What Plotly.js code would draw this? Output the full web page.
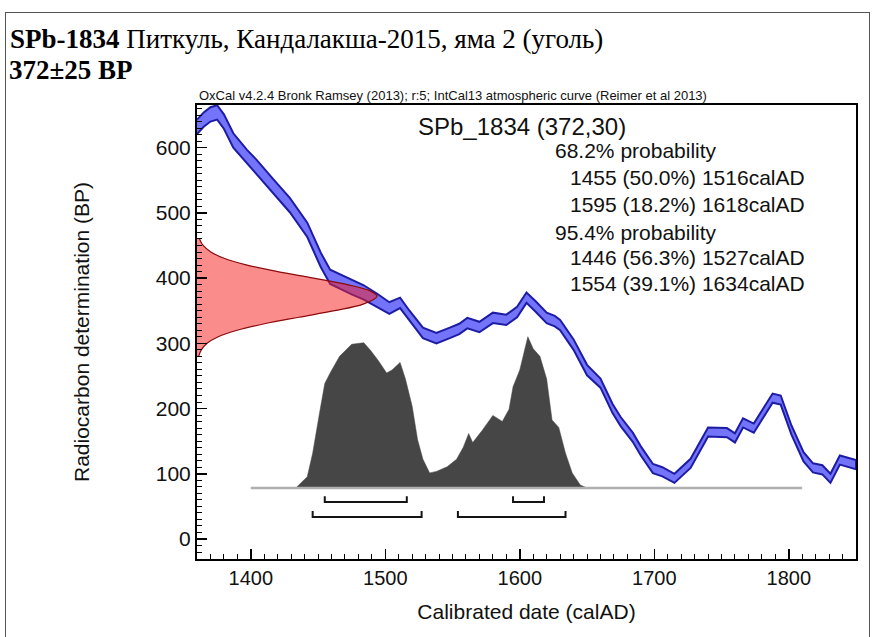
<!DOCTYPE html>
<html><head><meta charset="utf-8">
<script src="https://cdn.plot.ly/plotly-3.0.1.min.js"></script>
<style>
html,body{margin:0;padding:0;background:#fff;}
#chart{position:absolute;left:0;top:0;width:875px;height:637px;}
#frame{position:absolute;left:5px;top:12px;width:863px;height:700px;border:1px solid #555;pointer-events:none;}
</style></head><body>
<div id="chart"></div>
<div id="frame"></div>
<script>
// IntCal13 curve: year calAD, centre BP, 1-sigma error
const calYear = [1360,1365,1370,1375,1380,1387,1397,1404,1417,1429,1442,1452,1459,1466,1475,1484,1494,1503,1511,1518,1528,1538,1548,1555,1561,1570,1580,1590,1598,1605,1612,1620,1626,1630,1640,1650,1660,1669,1675,1684,1690,1699,1706,1715,1727,1740,1754,1760,1766,1774,1781,1788,1794,1802,1811,1818,1825,1831,1838,1844,1850];
const calBP   = [632, 643, 651, 654, 640, 611, 586, 571, 540, 512, 474, 428, 402, 395, 386, 378, 366, 354, 362, 342, 316, 308, 316, 322, 331, 325, 339, 336, 348, 370, 356, 339, 334, 328, 298, 259, 239, 200, 180, 156, 135, 108, 103, 93,  116, 164, 163, 155, 178, 170, 193, 216, 213, 167, 126, 109, 106, 93,  121, 118, 114];
const calErr  = [11,  11,  11,  11,  11,  11,  11,  11,  11,  11,  11,  11,  11,  11,  11,  11,  10,  9,   8,   8,   8,   8,   8,   8,   8,   8,   8,   8,   8,   8,   8,   8,   8,   8,   8,   8,   7,   7,   7,   7,   7,   7,   7,   7,   7,   7,   7,   7,   7,   7,   7,   7,   7,   7,   7,   7,   7,   7,   7,   7,   7];

// Radiocarbon measurement distribution (BP, relative probability)
const rcBP   = [280, 290, 300, 310, 320, 330, 340, 350, 360, 372, 380, 390, 400, 410, 420, 430, 440, 450, 460];
const rcProb = [0.009,0.024,0.056,0.118,0.223,0.375,0.566,0.764,0.923,1.0,0.965,0.835,0.647,0.448,0.278,0.154,0.077,0.034,0.014];

// Calibrated date distribution (calAD, relative probability)
const distYear = [1430,1434,1442,1446,1451,1455,1459,1466,1475,1484,1489,1495,1501,1505,1511,1515,1520,1524,1528,1533,1538,1546,1553,1558,1562,1565,1572,1580,1587,1592,1595,1600,1606,1610,1615,1620,1624,1629,1634,1639,1645,1650];
const distProb = [0,   0.005,0.075,0.23,0.49,0.69,0.76,0.87,0.95,0.96,0.91,0.84,0.76,0.78,0.83,0.72,0.54,0.32,0.19,0.10,0.11,0.14,0.19,0.27,0.36,0.30,0.38,0.48,0.44,0.52,0.67,0.78,1.0, 0.92,0.87,0.72,0.45,0.40,0.23,0.10,0.02,0];
const baseRange = [1400, 1810];

// Highest probability ranges
const range68 = [[1455,1516],[1595,1618]];
const range95 = [[1446,1527],[1554,1634]];

const xTicks = [1400,1500,1600,1700,1800];
const yTicks = [0,100,200,300,400,500,600];

const statsLines = [
  "68.2% probability",
  "1455 (50.0%) 1516calAD",
  "1595 (18.2%) 1618calAD",
  "95.4% probability",
  "1446 (56.3%) 1527calAD",
  "1554 (39.1%) 1634calAD"
];

const SANS = "Liberation Sans, Arial, Helvetica, sans-serif";
const SERIF = "Liberation Serif, Times New Roman, serif";

// band polygon
const bandX = calYear.concat(calYear.slice().reverse());
const bandY = calBP.map((v,i)=>v+calErr[i]).concat(calBP.map((v,i)=>v-calErr[i]).reverse());

const traces = [];
traces.push({x:bandX, y:bandY, type:'scatter', mode:'lines', fill:'toself',
  fillcolor:'rgb(116,116,250)', line:{color:'rgb(28,28,165)', width:2}, hoverinfo:'skip', showlegend:false});

traces.push({x:distYear, y:distProb, yaxis:'y2', type:'scatter', mode:'lines', fill:'tozeroy',
  fillcolor:'rgb(70,70,70)', line:{color:'rgb(70,70,70)', width:0.5}, showlegend:false, hoverinfo:'skip'});

traces.push({x:baseRange, y:[0,0], yaxis:'y2', type:'scatter', mode:'lines',
  line:{color:'rgb(175,175,175)', width:2.5}, showlegend:false, hoverinfo:'skip'});

function bracket(r, bar, top){
  return {x:[r[0],r[0],r[1],r[1]], y:[top,bar,bar,top], yaxis:'y2', type:'scatter', mode:'lines',
    line:{color:'rgb(20,20,20)', width:2}, showlegend:false, hoverinfo:'skip'};
}
range68.forEach(r=>traces.push(bracket(r,-0.092,-0.055)));
range95.forEach(r=>traces.push(bracket(r,-0.192,-0.152)));

traces.push({x:rcProb, y:rcBP, xaxis:'x2', type:'scatter', mode:'lines', fill:'tozerox',
  fillcolor:'rgba(245,35,35,0.52)', line:{color:'rgb(140,10,10)', width:1.2, shape:'spline'}, showlegend:false, hoverinfo:'skip'});

const ann = [];
ann.push({text:"<b>372±25 BP</b>", xref:'paper', yref:'paper', x:-0.2883, y:1.077, xanchor:'left', yanchor:'middle',
  showarrow:false, font:{family:SERIF, size:27, color:'#000'}});
ann.push({text:"OxCal v4.2.4 Bronk Ramsey (2013); r:5; IntCal13 atmospheric curve (Reimer et al 2013)",
  xref:'paper', yref:'paper', x:0.389, y:1.0, xanchor:'center', yanchor:'bottom', showarrow:false,
  font:{family:SANS, size:13, color:'#111'}});
ann.push({text:"SPb_1834 (372,30)", xref:'x', yref:'y', x:1522.5, y:632, xanchor:'left', yanchor:'middle',
  showarrow:false, font:{family:SANS, size:24, color:'#111'}});
const lineX = [1624.5,1635.5,1635.5,1624.5,1635.5,1635.5];
const lineY = [596,553.5,513.5,470.5,431,391];
statsLines.forEach((t,i)=>ann.push({text:t, xref:'x', yref:'y', x:lineX[i], y:lineY[i], xanchor:'left', yanchor:'middle',
  showarrow:false, font:{family:SANS, size:21, color:'#111'}}));

const layout = {
  width:875, height:637,
  margin:{l:197, r:19, t:105, b:78, pad:0},
  paper_bgcolor:'#fff', plot_bgcolor:'#fff',
  showlegend:false,
  title:{text:"<b>SPb-1834</b> Питкуль, Кандалакша-2015, яма 2 (уголь)",
    xref:'container', yref:'container', x:0.0114, xanchor:'left', y:0.94, yanchor:'middle',
    font:{family:SERIF, size:27, color:'#000'}},
  xaxis:{range:[1360,1850], tickvals:xTicks, ticks:'inside', ticklen:10, tickwidth:1.5, tickcolor:'#000',
    showline:true, linewidth:2, linecolor:'#000', mirror:true, showgrid:false, zeroline:false,
    minor:{dtick:10, tick0:1400, ticks:'inside', ticklen:5, tickwidth:1, tickcolor:'#000', showgrid:false},
    tickfont:{family:SANS, size:20, color:'#111'},
    title:{text:"Calibrated date (calAD)", font:{family:SANS, size:21, color:'#111'}, standoff:16}},
  yaxis:{range:[-30.7,665.4], tickvals:yTicks, ticks:'inside', ticklen:10, tickwidth:1.5, tickcolor:'#000',
    showline:true, linewidth:2, linecolor:'#000', mirror:true, showgrid:false, zeroline:false,
    minor:{dtick:10, tick0:0, ticks:'inside', ticklen:5, tickwidth:1, tickcolor:'#000', showgrid:false},
    tickfont:{family:SANS, size:21, color:'#111'},
    title:{text:"Radiocarbon determination (BP)", font:{family:SANS, size:21, color:'#111'}, standoff:60}},
  yaxis2:{overlaying:'y', range:[-0.469,2.531], visible:false, fixedrange:true},
  xaxis2:{overlaying:'x', range:[0,3.661], visible:false, fixedrange:true},
  annotations:ann
};

Plotly.newPlot('chart', traces, layout, {staticPlot:true, displayModeBar:false});
</script></body></html>
